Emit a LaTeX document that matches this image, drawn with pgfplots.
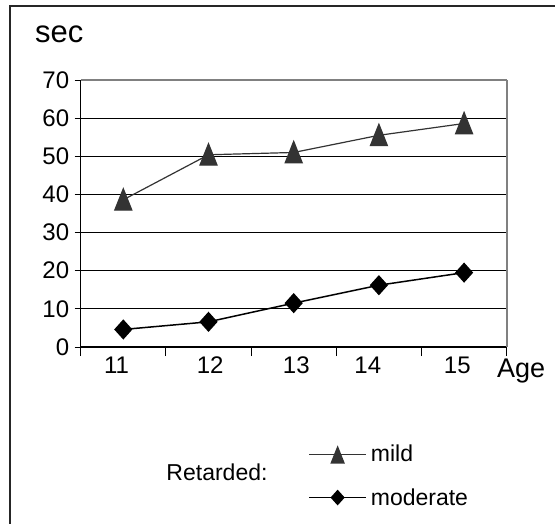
\documentclass[border=0pt]{standalone}
\usepackage{fontspec}
\setmainfont{Liberation Sans}
\usepackage{pgfplots}
\pgfplotsset{compat=1.18}
\definecolor{mildc}{HTML}{333333}
\definecolor{gridg}{HTML}{808080}
\begin{document}
\begin{tikzpicture}[x=1pt,y=1pt]
\path[use as bounding box] (0,0) rectangle (555,-524);
\draw[line width=1.5pt, black!85] (10,-524) -- (10,-6) -- (555,-6);
\begin{axis}[
  at={(80.7pt,-347pt)}, anchor=south west,
  width=426pt, height=267pt, scale only axis,
  xmin=-0.5, xmax=4.5, ymin=0, ymax=70,
  axis x line=bottom, axis y line=left,
  axis line style={-, black, line width=1.2pt},
  tick align=outside,
  ytick={0,10,...,70},
  ymajorgrids,
  major grid style={black, line width=0.8pt},
  xtick={-0.08,1.02,2.03,2.87,3.92},
  xticklabels={11,12,13,14,15},
  minor xtick={-0.5,0.5,1.5,2.5,3.5,4.5},
  major x tick style={draw=none},
  minor x tick style={black, line width=0.8pt},
  major y tick style={black, line width=0.8pt},
  major tick length=6pt,
  minor tick length=9pt,
  /pgf/number format/assume math mode=true,
  tick label style={font=\fontsize{24}{28}\selectfont},
  yticklabel style={xshift=-2pt},
  clip=false,
  legend style={at={(axis description cs:0.534,-0.483)}, anchor=west,
    draw=none, fill=none, inner sep=0pt, row sep=21pt, column sep=2pt,
    font=\fontsize{23}{27}\selectfont},
  legend cell align=left,
  legend image code/.code={\draw[mark repeat=2,mark phase=2,#1,every mark/.append style={scale=0.75}] plot coordinates {(0pt,0pt) (28.5pt,0pt) (57pt,0pt)};},
]
\draw[gridg, line width=1.5pt] (axis cs:-0.5,70) -- (axis cs:4.5,70);
\draw[gridg, line width=2pt] (axis cs:4.5,0) -- (axis cs:4.5,70);
\addplot[mildc, line width=1.2pt, mark=triangle*, mark size=9.8pt,
  mark options={fill=mildc, yshift=-3.2pt, yscale=1.45}]
  coordinates {(0,38.6) (1,50.4) (2,51.0) (3,55.5) (4,58.6)};
\addlegendentry{mild}
\addplot[black, line width=1.5pt, mark=diamond*, mark size=9pt,
  mark options={fill=black, xscale=1.2}]
  coordinates {(0,4.6) (1,6.6) (2,11.5) (3,16.2) (4,19.5)};
\addlegendentry{moderate}
\end{axis}
\node[anchor=base west, inner sep=0pt, font=\fontsize{31}{36}\selectfont] at (35,-43) {sec};
\node[anchor=base west, inner sep=0pt, font=\fontsize{27}{32}\selectfont] at (497,-377) {Age};
\node[inner sep=0pt, font=\fontsize{23}{27}\selectfont] at (217,-472) {Retarded:};
\end{tikzpicture}
\end{document}
